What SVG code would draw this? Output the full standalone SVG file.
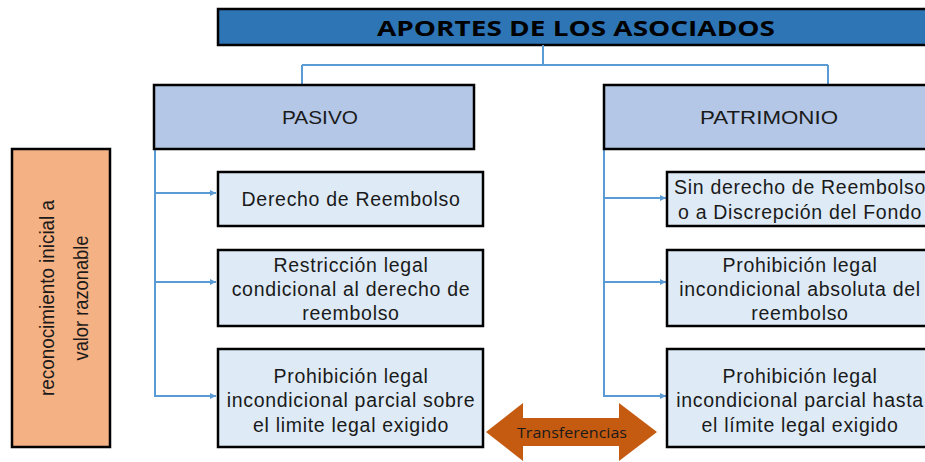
<svg xmlns="http://www.w3.org/2000/svg" width="925" height="462" viewBox="0 0 925 462">
<style>
.t{font-family:"Liberation Sans",sans-serif;fill:#1a1a1a;text-anchor:middle;dominant-baseline:central}
.c{font-size:19.5px;letter-spacing:0.7px}
.h{font-size:19px}
.child{fill:#DEEBF7;stroke:#000;stroke-width:2.5}
.head{fill:#B4C7E7;stroke:#000;stroke-width:2.5}
.ln{fill:none;stroke:#5B9BD5;stroke-width:2}
</style>
<defs>
<marker id="ah" viewBox="0 0 10 10" refX="10" refY="5" markerWidth="6" markerHeight="6" markerUnits="userSpaceOnUse" orient="auto">
<path d="M0,0 L10,5 L0,10 z" fill="#5B9BD5"/>
</marker>
</defs>
<rect width="925" height="462" fill="#fff"/>
<g id="title">
<rect x="218" y="9" width="720" height="36" fill="#2E75B6" stroke="#000" stroke-width="2.5"/>
<text x="576" y="27" style="font-family:'Open Sans','Liberation Sans',sans-serif;font-weight:bold;font-size:22px;text-anchor:middle;dominant-baseline:central;fill:#000" textLength="398" lengthAdjust="spacingAndGlyphs">APORTES DE LOS ASOCIADOS</text>
</g>
<g id="connectors">
<path class="ln" d="M543,45 V65 M302,65 H828 M302,65 V84 M828,65 V84"/>
<path class="ln" d="M155,149 V397"/>
<path class="ln" d="M155,193 H216" marker-end="url(#ah)"/>
<path class="ln" d="M155,282 H216" marker-end="url(#ah)"/>
<path class="ln" d="M155,396 H216" marker-end="url(#ah)"/>
<path class="ln" d="M604,149 V397"/>
<path class="ln" d="M604,198 H666" marker-end="url(#ah)"/>
<path class="ln" d="M604,282 H666" marker-end="url(#ah)"/>
<path class="ln" d="M604,396 H666" marker-end="url(#ah)"/>
</g>
<g id="pasivo">
<rect class="head" x="154" y="85" width="320" height="64"/>
<text class="t h" x="320" y="117" textLength="76" lengthAdjust="spacingAndGlyphs">PASIVO</text>
</g>
<g id="patrimonio">
<rect class="head" x="604" y="85" width="330" height="64"/>
<text class="t h" x="769" y="117" textLength="138" lengthAdjust="spacingAndGlyphs">PATRIMONIO</text>
</g>
<g id="reconocimiento">
<rect x="12" y="149" width="98" height="298" fill="#F4B183" stroke="#000" stroke-width="2.5"/>
<text transform="translate(47,298) rotate(-90)" style="font-family:'Liberation Sans',sans-serif;font-size:20px;fill:#1a1a1a;text-anchor:middle;dominant-baseline:central" textLength="196" lengthAdjust="spacingAndGlyphs">reconocimiento inicial a</text>
<text transform="translate(81,298) rotate(-90)" style="font-family:'Liberation Sans',sans-serif;font-size:20px;fill:#1a1a1a;text-anchor:middle;dominant-baseline:central" textLength="125" lengthAdjust="spacingAndGlyphs">valor razonable</text>
</g>
<g id="p1">
<rect class="child" x="218" y="172" width="265" height="54"/>
<text class="t c" x="351" y="199">Derecho de Reembolso</text>
</g>
<g id="p2">
<rect class="child" x="218" y="250" width="265" height="76"/>
<text class="t c" x="351" y="265">Restricción legal</text>
<text class="t c" x="351" y="289">condicional al derecho de</text>
<text class="t c" x="351" y="313">reembolso</text>
</g>
<g id="p3">
<rect class="child" x="218" y="349" width="265" height="98"/>
<text class="t c" x="351" y="376">Prohibición legal</text>
<text class="t c" x="351" y="400">incondicional parcial sobre</text>
<text class="t c" x="351" y="425">el limite legal exigido</text>
</g>
<g id="q1">
<rect class="child" x="667" y="172" width="270" height="54"/>
<text class="t c" x="800" y="187">Sin derecho de Reembolso</text>
<text class="t c" x="800" y="212">o a Discrepción del Fondo</text>
</g>
<g id="q2">
<rect class="child" x="667" y="250" width="270" height="76"/>
<text class="t c" x="800" y="265">Prohibición legal</text>
<text class="t c" x="800" y="289">incondicional absoluta del</text>
<text class="t c" x="800" y="313">reembolso</text>
</g>
<g id="q3">
<rect class="child" x="667" y="349" width="270" height="98"/>
<text class="t c" x="800" y="376">Prohibición legal</text>
<text class="t c" x="800" y="400">incondicional parcial hasta</text>
<text class="t c" x="800" y="425">el límite legal exigido</text>
</g>
<g id="transferencias">
<path d="M486,432 L523,403 V418 H619 V403 L657,432 L619,461 V446 H523 V461 Z" fill="#C55A11"/>
<text x="572" y="432" style="font-family:'Open Sans','Liberation Sans',sans-serif;font-size:14px;fill:#1a1a1a;text-anchor:middle;dominant-baseline:central" textLength="110" lengthAdjust="spacingAndGlyphs">Transferencias</text>
</g>
</svg>
